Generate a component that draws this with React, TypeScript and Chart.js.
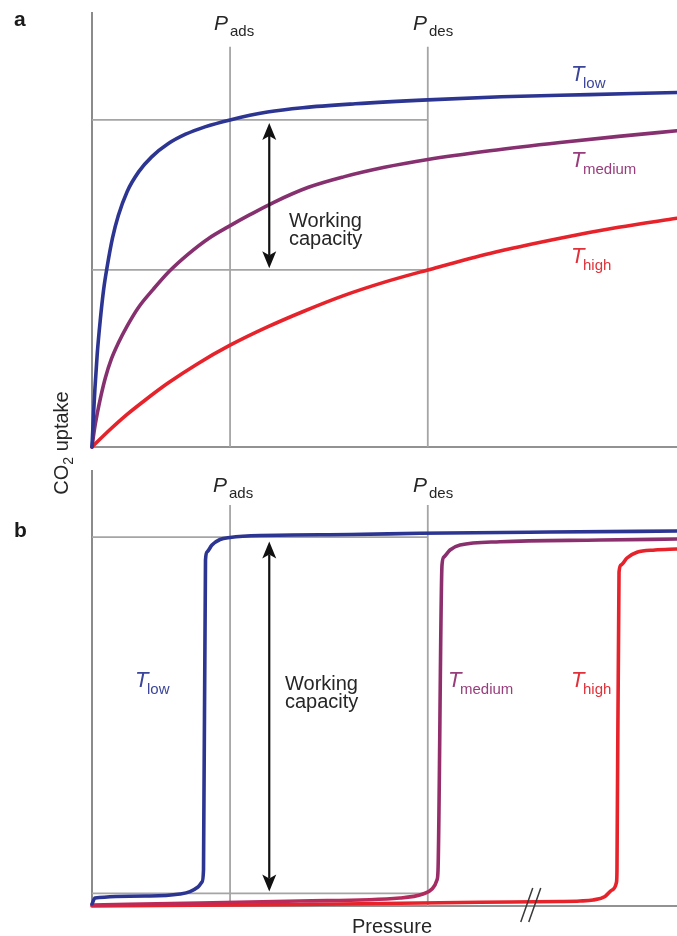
import React, { useEffect, useRef } from "react";
import { Chart, registerables } from "chart.js";
Chart.register(...registerables);

// ---------- shared reference positions (pressure, 0-100 scale) ----------
const P_ADS = 23.6;
const P_DES = 57.4;
const GUIDE_TOP = 92;

// ---------- panel a : Langmuir-type isotherms ----------
const A_UPPER = 75.2;
const A_LOWER = 40.7;
const aLowX = [0, 0.25, 0.5, 0.9, 1.4, 2.0, 2.6, 3.5, 4.5, 6, 8, 10.2, 13, 16, 19.3, 23.6, 30, 36, 45, 57.4, 70, 85, 100];
const aLowY = [0, 7.2, 13.4, 21.5, 29.0, 36.3, 41.5, 48.0, 53.2, 58.7, 63.3, 66.7, 69.7, 71.9, 73.6, 75.2, 77.0, 78.0, 78.9, 79.8, 80.5, 81.0, 81.5];
const aMedX = [0, 0.4, 0.9, 1.5, 2.3, 3.3, 4.5, 6, 8, 10.5, 13.3, 16.5, 20, 23.25, 27, 31, 37, 43, 50, 57.4, 68, 80, 90, 100];
const aMedY = [0, 3.9, 7.7, 11.6, 16.0, 20.2, 23.9, 27.8, 32.2, 36.3, 40.5, 44.4, 48.0, 50.6, 53.4, 56.2, 59.7, 62.1, 64.3, 66.1, 68.1, 70.0, 71.4, 72.7];
const aHighX = [0, 3, 6, 9, 13, 18, 23.6, 30, 36, 43, 50, 57.4, 68, 80, 90, 100];
const aHighY = [0, 3.9, 7.5, 10.7, 14.7, 19.1, 23.4, 27.6, 31.1, 34.8, 37.9, 40.7, 44.5, 48.0, 50.5, 52.6];
const A_ARROW_X = 30.3;
const A_ARROW_FROM = 41.1;
const A_ARROW_TO = 74.5;

// ---------- panel b : step-shaped isotherms ----------
const B_UPPER = 84.6;
const B_LOWER = 2.9;
const bLowX = [0, 0.51, 9.91, 15.04, 16.75, 18.12, 18.8, 19.06, 19.4, 19.66, 20.51, 21.88, 23.59, 28.72, 44.1, 56.07, 78.29, 100];
const bLowY = [0.46, 1.83, 2.29, 2.75, 3.28, 4.36, 5.5, 8.26, 79.36, 81.19, 82.8, 84.06, 84.52, 84.98, 85.2, 85.48, 85.78, 86.0];
const bMedX = [0, 18.46, 35.56, 52.65, 56.58, 58.12, 58.97, 59.15, 59.83, 60.17, 61.2, 62.91, 69.74, 86.84, 100];
const bMedY = [0.23, 0.69, 1.15, 1.83, 2.75, 3.9, 5.96, 8.26, 78.21, 80.05, 81.65, 82.8, 83.56, 83.94, 84.17];
const bHighX = [0, 35.56, 66.32, 80.0, 83.42, 85.64, 87.69, 88.89, 89.66, 89.74, 90.09, 90.43, 91.45, 93.16, 96.24, 100];
const bHighY = [0, 0.34, 0.85, 1.03, 1.15, 1.38, 2.18, 3.67, 5.5, 8.26, 76.61, 78.21, 79.82, 81.12, 81.65, 81.88];
const B_ARROW_X = 30.3;
const B_ARROW_FROM = 3.3;
const B_ARROW_TO = 83.6;
const B_BREAK_X = 75;

// ---------- styles ----------
const BLUE = "#2c3591";
const PURPLE = "#86306f";
const RED = "#e6222b";
const GRAY = "#a5a5a5";
const AXIS = "#6f6f6f";
const FONT = '"Liberation Sans", Arial, Helvetica, sans-serif';

type Pt = { x: number; y: number };
const zip = (xs: number[], ys: number[]): Pt[] => xs.map((x, i) => ({ x, y: ys[i] }));

const curve = (data: Pt[], color: any) => ({
  data,
  borderColor: color,
  borderWidth: 3.6,
  pointRadius: 0,
  showLine: true,
  fill: false,
  cubicInterpolationMode: "monotone",
  clip: false,
  borderCapStyle: "round",
  borderJoinStyle: "round",
  order: 0,
});

const guide = (data: Pt[]) => ({
  data,
  borderColor: GRAY,
  borderWidth: 1.8,
  pointRadius: 0,
  showLine: true,
  fill: false,
  tension: 0,
  clip: false,
  order: 5,
});

const guides = (upper: number, lower: number) => [
  guide(zip([0, P_DES], [upper, upper])),
  guide(zip([0, P_DES], [lower, lower])),
  guide(zip([P_ADS, P_ADS], [0, GUIDE_TOP])),
  guide(zip([P_DES, P_DES], [0, GUIDE_TOP])),
];

function drawArrow(ctx: CanvasRenderingContext2D, x: number, yTop: number, yBot: number) {
  const head = 17;
  const half = 7;
  const notch = 4;
  ctx.save();
  ctx.strokeStyle = "#111";
  ctx.fillStyle = "#111";
  ctx.lineWidth = 2.2;
  ctx.beginPath();
  ctx.moveTo(x, yTop + head - notch);
  ctx.lineTo(x, yBot - head + notch);
  ctx.stroke();
  ctx.beginPath();
  ctx.moveTo(x, yTop);
  ctx.lineTo(x + half, yTop + head);
  ctx.lineTo(x, yTop + head - notch);
  ctx.lineTo(x - half, yTop + head);
  ctx.closePath();
  ctx.fill();
  ctx.beginPath();
  ctx.moveTo(x, yBot);
  ctx.lineTo(x + half, yBot - head);
  ctx.lineTo(x, yBot - head + notch);
  ctx.lineTo(x - half, yBot - head);
  ctx.closePath();
  ctx.fill();
  ctx.restore();
}

const makeDecor = (arrowX: number, from: number, to: number, breakX: number | null) => ({
  id: "decor",
  beforeDatasetsDraw(chart: any) {
    const { ctx, chartArea } = chart;
    ctx.save();
    ctx.strokeStyle = AXIS;
    ctx.lineWidth = 1.6;
    ctx.beginPath();
    ctx.moveTo(chartArea.left, chartArea.top);
    ctx.lineTo(chartArea.left, chartArea.bottom);
    ctx.lineTo(chartArea.right, chartArea.bottom);
    ctx.stroke();
    ctx.restore();
  },
  afterDatasetsDraw(chart: any) {
    const { ctx, chartArea, scales } = chart;
    const x = scales.x.getPixelForValue(arrowX);
    drawArrow(ctx, x, scales.y.getPixelForValue(to), scales.y.getPixelForValue(from));
    if (breakX !== null) {
      const cx = scales.x.getPixelForValue(breakX);
      const cy = chartArea.bottom;
      ctx.save();
      ctx.strokeStyle = "#3a3a3a";
      ctx.lineWidth = 1.5;
      ctx.beginPath();
      ctx.moveTo(cx - 10, cy + 16);
      ctx.lineTo(cx + 2, cy - 18);
      ctx.moveTo(cx - 2, cy + 16);
      ctx.lineTo(cx + 10, cy - 18);
      ctx.stroke();
      ctx.restore();
    }
  },
});

function Panel(props: { top: number; height: number; padTop: number; padBottom: number; datasets: any[]; decor: any }) {
  const ref = useRef<HTMLCanvasElement>(null);
  useEffect(() => {
    const chart = new Chart(ref.current as HTMLCanvasElement, {
      type: "scatter",
      data: { datasets: props.datasets },
      options: {
        animation: false,
        responsive: false,
        devicePixelRatio: 1,
        layout: { padding: { left: 92, right: 0, top: props.padTop, bottom: props.padBottom } },
        scales: {
          x: { type: "linear", min: 0, max: 100, display: false },
          y: { type: "linear", min: 0, max: 100, display: false },
        },
        plugins: { legend: { display: false }, tooltip: { enabled: false } },
      } as any,
      plugins: [props.decor],
    });
    return () => chart.destroy();
  }, []);
  return (
    <canvas
      ref={ref}
      width={677}
      height={props.height}
      style={{ position: "absolute", left: 0, top: props.top, width: 677, height: props.height }}
    />
  );
}

function L(p: { x: number; base: number; size: number; color?: string; italic?: boolean; bold?: boolean; children: any }) {
  return (
    <div
      style={{
        position: "absolute",
        left: p.x,
        top: p.base - 0.8465 * p.size,
        fontSize: p.size,
        lineHeight: `${p.size}px`,
        fontFamily: FONT,
        fontStyle: p.italic ? "italic" : "normal",
        fontWeight: p.bold ? "bold" : "normal",
        color: p.color || "#262626",
        whiteSpace: "nowrap",
      }}
    >
      {p.children}
    </div>
  );
}

function Sym(p: { x: number; base: number; main: string; sub: string; color?: string; size?: number; dx?: number }) {
  const size = p.size || 21;
  return (
    <>
      <L x={p.x} base={p.base} size={size} italic color={p.color}>{p.main}</L>
      <L x={p.x + (p.dx || 16)} base={p.base + 6} size={15} color={p.color}>{p.sub}</L>
    </>
  );
}

const medGradient = (c: any) => {
  const chart = c.chart;
  const area = chart.chartArea;
  if (!area) return PURPLE;
  const g = chart.ctx.createLinearGradient(0, area.bottom, 0, area.top);
  g.addColorStop(0, "#c02a57");
  g.addColorStop(0.07, "#982d69");
  g.addColorStop(1, PURPLE);
  return g;
};

export default function App() {
  const aSets = [
    curve(zip(aLowX, aLowY), BLUE),
    curve(zip(aMedX, aMedY), PURPLE),
    curve(zip(aHighX, aHighY), RED),
    ...guides(A_UPPER, A_LOWER),
  ];
  const bSets = [
    curve(zip(bLowX, bLowY), BLUE),
    curve(zip(bMedX, bMedY), medGradient),
    curve(zip(bHighX, bHighY), RED),
    ...guides(B_UPPER, B_LOWER),
  ];
  const LOW_C = "#3b4599";
  const MED_C = "#983d7c";
  const HIGH_C = "#e0313a";
  return (
    <div style={{ position: "absolute", left: 0, top: 0, width: 677, height: 936, background: "#fff", overflow: "hidden" }}>
      <Panel top={0} height={460} padTop={12} padBottom={13} datasets={aSets} decor={makeDecor(A_ARROW_X, A_ARROW_FROM, A_ARROW_TO, null)} />
      <Panel top={460} height={476} padTop={10} padBottom={30} datasets={bSets} decor={makeDecor(B_ARROW_X, B_ARROW_FROM, B_ARROW_TO, B_BREAK_X)} />

      {/* panel a text */}
      <L x={14} base={26} size={21} bold color="#1a1a1a">a</L>
      <Sym x={214} base={30} main="P" sub="ads" dx={16} />
      <Sym x={413} base={30} main="P" sub="des" dx={16} />
      <Sym x={571} base={82} main="T" sub="low" color={LOW_C} size={22} dx={12} />
      <Sym x={571} base={168} main="T" sub="medium" color={MED_C} size={22} dx={12} />
      <Sym x={571} base={264} main="T" sub="high" color={HIGH_C} size={22} dx={12} />
      <L x={289} base={227} size={20}>Working</L>
      <L x={289} base={245} size={20}>capacity</L>

      {/* panel b text */}
      <L x={14} base={537} size={21} bold color="#1a1a1a">b</L>
      <Sym x={213} base={492} main="P" sub="ads" dx={16} />
      <Sym x={413} base={492} main="P" sub="des" dx={16} />
      <Sym x={135} base={688} main="T" sub="low" color={LOW_C} size={22} dx={12} />
      <Sym x={448} base={688} main="T" sub="medium" color={MED_C} size={22} dx={12} />
      <Sym x={571} base={688} main="T" sub="high" color={HIGH_C} size={22} dx={12} />
      <L x={285} base={690} size={20}>Working</L>
      <L x={285} base={708} size={20}>capacity</L>
      <L x={352} base={933} size={20}>Pressure</L>

      {/* shared y-axis title */}
      <div
        style={{
          position: "absolute",
          left: 62,
          top: 443,
          transform: "translate(-50%, -50%) rotate(-90deg)",
          fontFamily: FONT,
          fontSize: 20,
          lineHeight: "20px",
          color: "#262626",
          whiteSpace: "nowrap",
        }}
      >
        CO<span style={{ fontSize: 14, position: "relative", top: 5 }}>2</span> uptake
      </div>
    </div>
  );
}
